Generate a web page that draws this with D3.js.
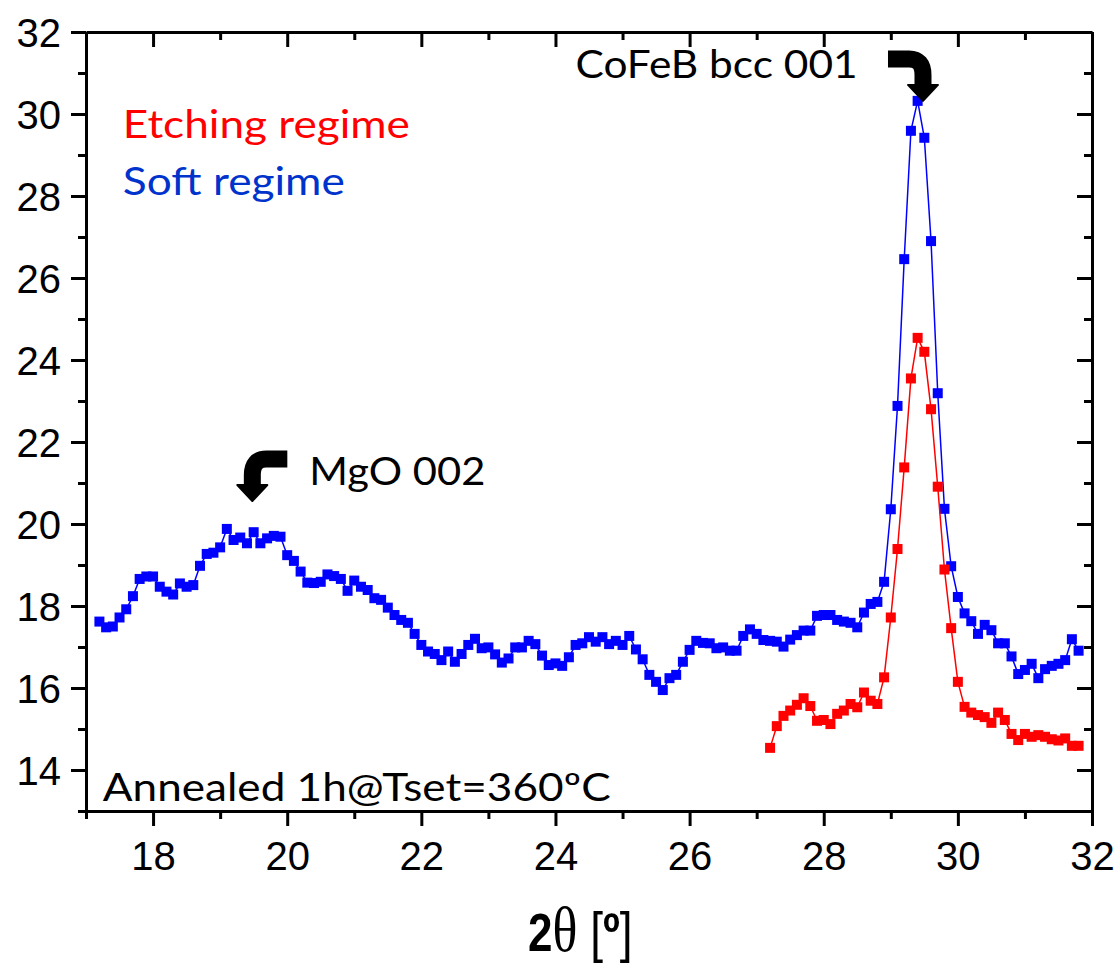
<!DOCTYPE html>
<html>
<head>
<meta charset="utf-8">
<script src="https://cdn.jsdelivr.net/npm/d3@7"></script>
<style>
  body { margin: 0; background: #fff; }
  .axis text { font-family: "Liberation Sans", Arial, sans-serif; font-size: 40px; fill: #000; }
  .axis path, .axis line { stroke: #000; stroke-width: 3; }
  .note { font-family: Lato, "Open Sans", sans-serif; font-size: 38px; }
</style>
</head>
<body>
<div id="graph"></div>
<script>
// data: 2theta scans, sampled every 0.1 deg
const softStart = 17.2;
const etchStart = 27.2;
const step = 0.1;

// Soft regime (blue), 17.2 .. 31.8
const softValues = [
  17.62, 17.48, 17.50, 17.72, 17.92, 18.24, 18.66, 18.72, 18.72, 18.47,
  18.35, 18.28, 18.55, 18.47, 18.51, 18.98, 19.27, 19.30, 19.43, 19.88,
  19.61, 19.67, 19.53, 19.80, 19.53, 19.65, 19.71, 19.69, 19.24, 19.10,
  18.84, 18.57, 18.56, 18.59, 18.77, 18.73, 18.66, 18.37, 18.62, 18.47,
  18.39, 18.19, 18.15, 17.96, 17.78, 17.66, 17.59, 17.32, 17.05, 16.89,
  16.83, 16.68, 16.89, 16.64, 16.83, 17.05, 17.20, 16.97, 16.99, 16.82,
  16.62, 16.72, 16.99, 16.99, 17.15, 17.07, 16.79, 16.56, 16.60, 16.54,
  16.75, 17.05, 17.09, 17.24, 17.13, 17.24, 17.07, 17.15, 17.05, 17.27,
  16.94, 16.70, 16.32, 16.15, 15.95, 16.24, 16.32, 16.64, 16.93, 17.15,
  17.10, 17.09, 16.97, 16.99, 16.91, 16.91, 17.27, 17.43, 17.32, 17.17,
  17.15, 17.13, 17.01, 17.18, 17.29, 17.40, 17.40, 17.76, 17.78, 17.78,
  17.66, 17.62, 17.59, 17.48, 17.84, 18.05, 18.10, 18.59, 20.36, 22.88,
  26.46, 29.59, 30.32, 29.42, 26.90, 23.19, 20.37, 18.97, 18.22, 17.82,
  17.63, 17.32, 17.54, 17.41, 17.09, 17.09, 16.77, 16.34, 16.44, 16.59,
  16.24, 16.46, 16.54, 16.59, 16.68, 17.19, 16.91
];

// Etching regime (red), 27.2 .. 31.8
const etchValues = [
  14.54, 15.07, 15.32, 15.45, 15.59, 15.75, 15.56, 15.20, 15.22, 15.12,
  15.37, 15.45, 15.61, 15.53, 15.89, 15.69, 15.61, 16.26, 17.72, 19.39,
  21.38, 23.55, 24.54, 24.20, 22.80, 20.91, 18.89, 17.46, 16.15, 15.54,
  15.40, 15.34, 15.29, 15.15, 15.40, 15.22, 14.88, 14.73, 14.88, 14.81,
  14.85, 14.81, 14.75, 14.72, 14.77, 14.59, 14.59
];

const xMajor = [18, 20, 22, 24, 26, 28, 30, 32];
const xMinor = [17, 19, 21, 23, 25, 27, 29, 31];
const yMajor = [14, 16, 18, 20, 22, 24, 26, 28, 30, 32];
const yMinor = [13, 15, 17, 19, 21, 23, 25, 27, 29, 31];

const labels = [
  {text: "CoFeB bcc 001", x: 24.30, y: 30.88, color: "#000", len: 282},
  {text: "Etching regime", x: 17.55, y: 29.41, color: "#ff0000", len: 287},
  {text: "Soft regime", x: 17.55, y: 28.02, color: "#0033cc", len: 222},
  {text: "MgO 002", x: 20.33, y: 20.95, color: "#000", len: 176},
  {text: "Annealed 1h@Tset=360\u00baC", x: 17.25, y: 13.24, color: "#000", len: 508}
];
// arrow tips (data coords); dir = side the bar comes from
const arrows = [
  {x: 19.48, y: 20.56, dir: 1},
  {x: 29.48, y: 30.32, dir: -1}
];

const margin = {top: 32, right: 28, bottom: 155, left: 86};
const width = 1120 - margin.left - margin.right;
const height = 966 - margin.top - margin.bottom;

const svg = d3.select("#graph").append("svg")
    .attr("width", 1120)
    .attr("height", 966)
  .append("g")
    .attr("transform", "translate(" + margin.left + "," + margin.top + ")");

const x = d3.scaleLinear().domain([17, 32]).range([0, width]);
const y = d3.scaleLinear().domain([13, 32]).range([height, 0]);

function toPoints(start, vals) {
  return vals.map((v, i) => ({x: start + i * step, y: v}));
}
const soft = toPoints(softStart, softValues);
const etch = toPoints(etchStart, etchValues);

// axes: bottom / left with labels, top / right ticks inside
function addAxis(axisFn, cls, transform, major, minor, size, labelsOn) {
  const g1 = svg.append("g").attr("class", "axis " + cls).attr("transform", transform)
    .call(axisFn.tickValues(major).tickSize(size).tickSizeOuter(0)
      .tickPadding(labelsOn ? 10 : 0).tickFormat(labelsOn ? d3.format("d") : ""));
  const g2 = svg.append("g").attr("class", "axis " + cls).attr("transform", transform)
    .call(axisFn.tickValues(minor).tickSize(size * 8 / 15).tickSizeOuter(0).tickFormat(""));
  g2.select(".domain").remove();
  return g1;
}
addAxis(d3.axisBottom(x), "x", "translate(0," + height + ")", xMajor, xMinor, 15, true);
addAxis(d3.axisLeft(y), "y", "translate(0,0)", yMajor, yMinor, 15, true);
addAxis(d3.axisTop(x), "x2", "translate(0,0)", xMajor, xMinor, -15, false);
addAxis(d3.axisRight(y), "y2", "translate(" + width + ",0)", yMajor, yMinor, -15, false);

svg.selectAll(".axis.y text").attr("dx", "0").attr("dy", "0.36em");
svg.selectAll(".axis.x text").attr("dy", "0.85em");

// series
const line = d3.line().x(d => x(d.x)).y(d => y(d.y));
const ms = 10;

function drawSeries(data, color) {
  svg.append("path").datum(data)
    .attr("fill", "none").attr("stroke", color).attr("stroke-width", 1.5)
    .attr("d", line);
  svg.append("g").selectAll("rect").data(data).enter().append("rect")
    .attr("x", d => x(d.x) - ms / 2)
    .attr("y", d => y(d.y) - ms / 2)
    .attr("width", ms).attr("height", ms)
    .attr("fill", color);
}
drawSeries(soft, "#0000ff");
drawSeries(etch, "#ff0000");

// annotations
svg.selectAll(".note").data(labels).enter().append("text")
  .attr("class", "note")
  .attr("x", d => x(d.x)).attr("y", d => y(d.y))
  .attr("fill", d => d.color)
  .attr("textLength", d => d.len)
  .attr("lengthAdjust", "spacingAndGlyphs")
  .text(d => d.text);

arrows.forEach(a => {
  const tx = x(a.x), ty = y(a.y), s = a.dir;
  const g = svg.append("g");
  g.append("path")
    .attr("d", "M" + (tx + s * 35) + "," + (ty - 42) +
      " L" + (tx + s * 14) + "," + (ty - 42) +
      " Q" + tx + "," + (ty - 42) + " " + tx + "," + (ty - 26) +
      " L" + tx + "," + (ty - 14))
    .attr("fill", "none").attr("stroke", "#000").attr("stroke-width", 17)
    .attr("stroke-linejoin", "round");
  g.append("path")
    .attr("d", "M" + (tx - 15) + "," + (ty - 16) + " L" + (tx + 15) + "," + (ty - 16) +
      " L" + tx + "," + ty + " Z")
    .attr("fill", "#000").attr("stroke", "#000").attr("stroke-width", 2)
    .attr("stroke-linejoin", "round");
});

// x axis title
const title = svg.append("text")
  .attr("transform", "translate(" + (528 - margin.left) + "," + (951 - margin.top) + ") scale(1,1.2)")
  .attr("font-family", "'Liberation Sans', Arial, sans-serif")
  .attr("font-size", 44);
title.append("tspan").attr("font-weight", "bold").text("2");
title.append("tspan").attr("font-family", "'Liberation Serif', serif").attr("font-size", 52).text("\u03b8");
title.append("tspan").attr("font-size", 46).text(" [");
title.append("tspan").attr("font-weight", "bold").attr("font-size", 46).text("\u00ba");
title.append("tspan").attr("font-size", 46).text("]");
</script>
</body>
</html>
